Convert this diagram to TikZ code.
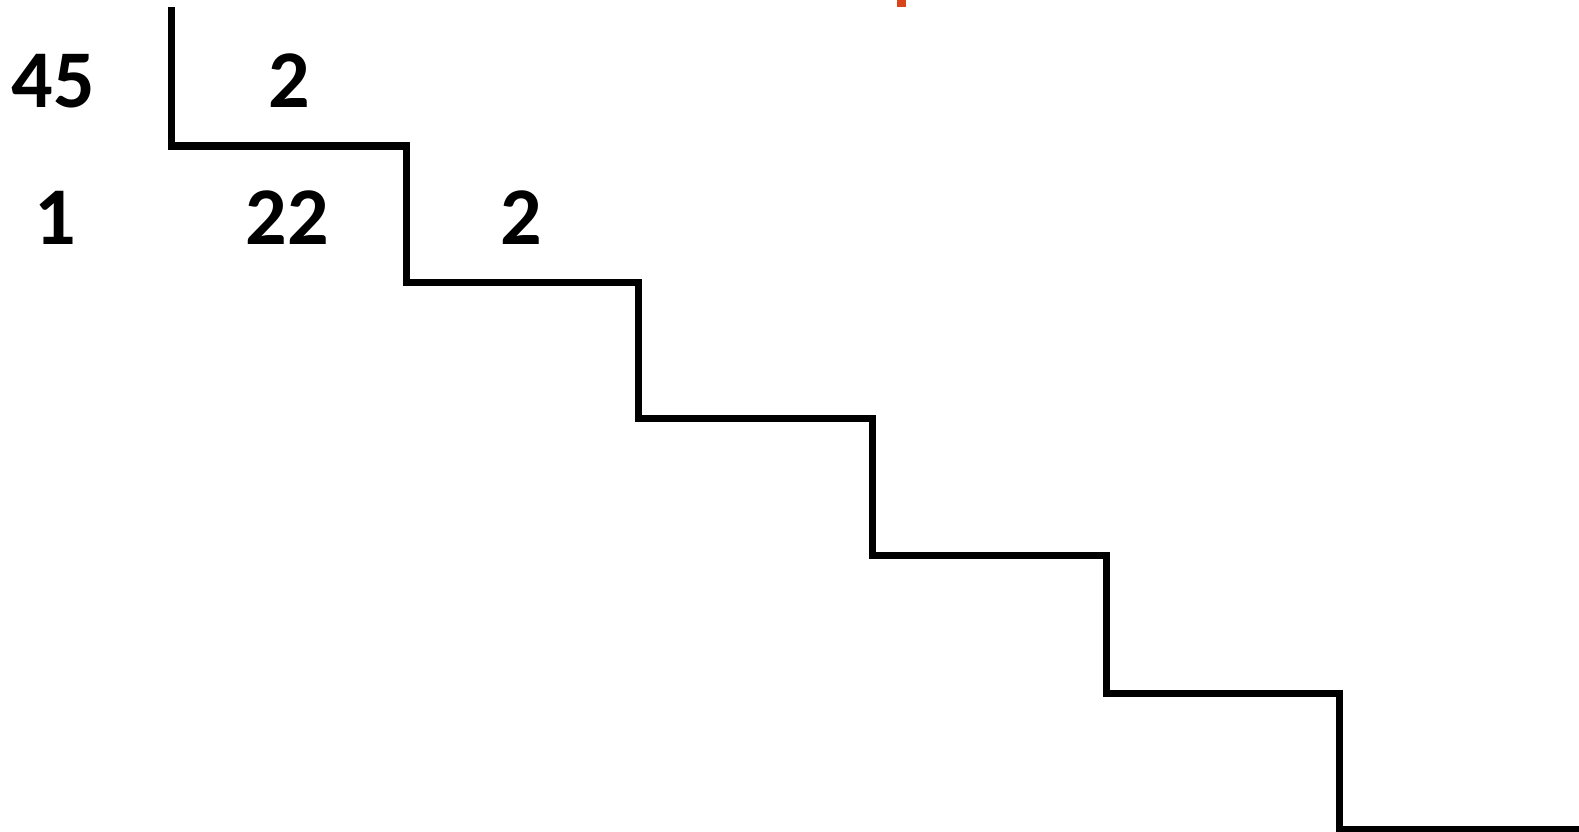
\documentclass[tikz,border=0pt]{standalone}
\usepackage{fontspec}
\setmainfont{Carlito}
\definecolor{DivInk}{HTML}{000000}
\definecolor{DivMark}{HTML}{D9441A}
\usetikzlibrary{positioning}

\begin{document}
\begin{tikzpicture}[x=1pt,y=-1pt,
      digit/.style={anchor=base,inner sep=0pt,text=DivInk,
                    font=\fontsize{82}{90}\selectfont\bfseries},
      stair/.style={line width=7pt,draw=DivInk}]
    \useasboundingbox (0,0) rectangle (1579,832);
    \fill[DivMark] (897,0) rectangle (906,7);
    % division staircase
    \draw[stair] (171,7) |- (406,146) |- (638,282) |- (872,418)
      |- (1106,555) |- (1339,693) |- (1579,829);
    \node[digit] (dividend) at (53,108) {45};
    \node[digit] (divisorA) at (289,108) {2};
    \node[digit] (remA) at (55,244) {1};
    \node[digit] (quotA) at (287,244) {22};
    \node[digit] (divisorB) at (521,244) {2};
  \end{tikzpicture}
\end{document}
